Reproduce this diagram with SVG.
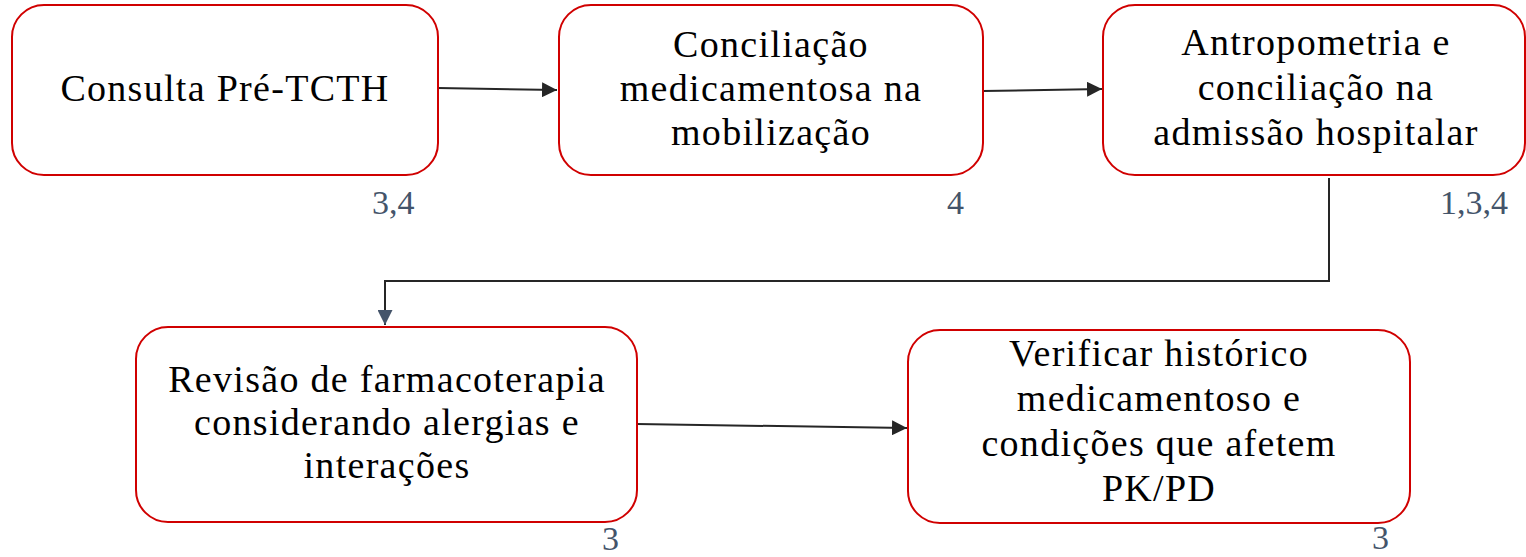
<svg xmlns="http://www.w3.org/2000/svg" width="1526" height="557" viewBox="0 0 1526 557">
<defs>
<marker id="ah" viewBox="0 0 10 10" refX="10" refY="5" markerWidth="15" markerHeight="15" markerUnits="userSpaceOnUse" orient="auto"><path d="M0,0 L10,5 L0,10 z" fill="#262626"/></marker>
<marker id="ah2" viewBox="0 0 10 10" refX="10" refY="5" markerWidth="15" markerHeight="15" markerUnits="userSpaceOnUse" orient="auto"><path d="M0,0 L10,5 L0,10 z" fill="#44546A"/></marker>
</defs>
<style>
.box{fill:#ffffff;stroke:#d00000;stroke-width:2}
.t{font-family:"Liberation Serif","DejaVu Serif",serif;font-size:38px;fill:#000;text-anchor:middle;letter-spacing:1.3px}
.n{font-family:"Liberation Serif","DejaVu Serif",serif;font-size:34px;fill:#44546A}
.c{fill:none;stroke:#262626;stroke-width:2}
</style>
<rect width="1526" height="557" fill="#ffffff"/>
<g id="connectors">
<path class="c" d="M438,88 L557,90" marker-end="url(#ah)"/>
<path class="c" d="M983,91 L1102,89" marker-end="url(#ah)"/>
<path class="c" d="M1329,178 L1329,281 L385,281 L385,325" marker-end="url(#ah2)"/>
<path class="c" d="M637,424 L907,428" marker-end="url(#ah)"/>
</g>
<g id="node1">
<rect class="box" x="12" y="5" width="426" height="170" rx="32"/>
<text class="t" x="225" y="101">Consulta Pré-TCTH</text>
<text class="n" x="372" y="214">3,4</text>
</g>
<g id="node2">
<rect class="box" x="559" y="5" width="424" height="170" rx="32"/>
<text class="t" x="771" y="57">Conciliação</text>
<text class="t" x="771" y="101">medicamentosa na</text>
<text class="t" x="771" y="145">mobilização</text>
<text class="n" x="947" y="214">4</text>
</g>
<g id="node3">
<rect class="box" x="1103" y="5" width="422" height="170" rx="32"/>
<text class="t" x="1316" y="55">Antropometria e</text>
<text class="t" x="1316" y="100">conciliação na</text>
<text class="t" x="1316" y="145">admissão hospitalar</text>
<text class="n" x="1440" y="214">1,3,4</text>
</g>
<g id="node4">
<rect class="box" x="136" y="327" width="501" height="195" rx="32"/>
<text class="t" x="387" y="392">Revisão de farmacoterapia</text>
<text class="t" x="387" y="435">considerando alergias e</text>
<text class="t" x="387" y="478">interações</text>
<text class="n" x="602" y="550">3</text>
</g>
<g id="node5">
<rect class="box" x="908" y="330" width="502" height="193" rx="32"/>
<text class="t" x="1159" y="366">Verificar histórico</text>
<text class="t" x="1159" y="411">medicamentoso e</text>
<text class="t" x="1159" y="456">condições que afetem</text>
<text class="t" x="1159" y="501">PK/PD</text>
<text class="n" x="1372" y="549">3</text>
</g>
</svg>
